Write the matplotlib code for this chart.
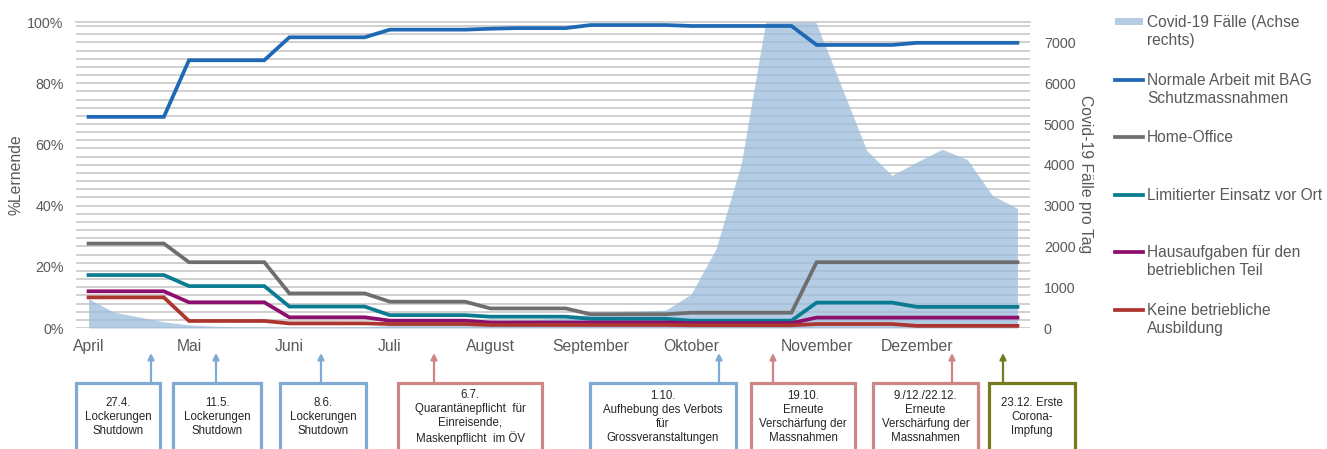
import numpy as np
import matplotlib.pyplot as plt
from matplotlib.patches import Rectangle
from matplotlib.lines import Line2D

plt.rcParams['font.family'] = ['Liberation Sans', 'DejaVu Sans']

W, H = 1327, 449
GREY = '#595959'

# weekly points, April to December 2020
weeks = np.arange(38)
months = ['April', 'Mai', 'Juni', 'Juli', 'August', 'September', 'Oktober', 'November', 'Dezember']
month_pos = [0, 4, 8, 12, 16, 20, 24, 29, 33]

# % Lernende
normal = [69.0] * 4 + [87.5] * 4 + [95.0] * 4 + [97.5] * 4 + [97.8, 98.0, 98.0, 98.0] \
    + [99.0] * 4 + [98.7] * 5 + [92.5] * 4 + [93.2] * 5
home_office = [27.6] * 4 + [21.5] * 4 + [11.3] * 4 + [8.6] * 4 + [6.4] * 4 + [4.5] * 4 + [5.0] * 5 + [21.5] * 9
limitiert = [17.3] * 4 + [13.7] * 4 + [7.0] * 4 + [4.2] * 4 + [3.7] * 4 + [3.0] * 4 + [2.4] * 5 + [8.3] * 4 + [6.9] * 5
hausaufgaben = [12.0] * 4 + [8.4] * 4 + [3.5] * 4 + [2.4] * 4 + [1.8] * 4 + [1.8] * 4 + [1.6] * 5 + [3.4] * 9
keine = [10.0] * 4 + [2.3] * 4 + [1.5] * 4 + [1.3] * 4 + [1.0] * 4 + [1.0] * 4 + [0.9] * 5 + [1.3] * 4 + [0.7] * 5

# Covid-19 Faelle pro Tag (right axis)
cases = [720, 390, 270, 150, 75, 45, 30, 25, 20, 20, 25, 30, 60, 90, 110, 130,
         170, 190, 210, 240, 350, 400, 420, 440, 830, 1950, 4030, 7600, 8500,
         7450, 5900, 4350, 3740, 4070, 4380, 4130, 3250, 2930]

series = [normal, home_office, limitiert, hausaufgaben, keine]
colors = ['#1f69b4', '#6e6e6e', '#0b7b92', '#8c0f6e', '#ad3530']
labels = ['Covid-19 Fälle (Achse\nrechts)', 'Normale Arbeit mit BAG\nSchutzmassnahmen', 'Home-Office',
          'Limitierter Einsatz vor Ort', 'Hausaufgaben für den\nbetrieblichen Teil', 'Keine betriebliche\nAusbildung']

notes = ['27.4.\nLockerungen\nShutdown', '11.5.\nLockerungen\nShutdown', '8.6.\nLockerungen\nShutdown',
         '6.7.\nQuarantänepflicht  für\nEinreisende,\nMaskenpflicht  im ÖV',
         '1.10.\nAufhebung des Verbots\nfür\nGrossveranstaltungen',
         '19.10.\nErneute\nVerschärfung der\nMassnahmen',
         '9./12./22.12.\nErneute\nVerschärfung der\nMassnahmen',
         '23.12. Erste\nCorona-\nImpfung']
BLUE, RED, OLIVE = '#7eaad3', '#cd8585', '#757a1f'
note_colors = [BLUE, BLUE, BLUE, RED, BLUE, RED, RED, OLIVE]
box_left = [76, 173, 280, 398, 590, 751, 873, 989]
box_right = [160, 261, 366, 542, 736, 855, 978, 1075]
arrow_x = [151, 216, 321, 434, 719, 773, 952, 1003]

fig = plt.figure(figsize=(W / 100, H / 100), dpi=100)
ax2 = fig.add_axes([76 / W, 1 - 328 / H, 954 / W, 306 / H])
ax = ax2.twinx()
ax.yaxis.tick_left()
ax2.yaxis.tick_right()

# cases area on right axis, behind the lines
ax2.fill_between(weeks, cases, color='#9bbcdb', alpha=0.75, lw=0)
ax2.set_ylim(0, 7500)
ax2.set_yticks(np.arange(0, 7001, 1000))
ax2.set_yticks(np.arange(0, 7500, 200), minor=True)
ax2.yaxis.grid(True, which='both', color='#c8c8c8', lw=1.2)
ax2.set_axisbelow(True)
ax2.tick_params(axis='y', which='both', length=0, pad=10, labelsize=10.3, labelcolor=GREY)

for s, c in zip(series, colors):
    ax.plot(weeks, s, color=c, lw=2.7, solid_joinstyle='miter')
ax.set_ylim(0, 100)
ax.set_yticks(np.arange(0, 101, 20))
ax.set_yticklabels([f'{v}%' for v in range(0, 101, 20)])
ax.tick_params(axis='y', length=0, pad=9, labelsize=10.3, labelcolor=GREY)

ax2.set_xlim(-0.5, 37.5)
ax2.set_xticks(month_pos)
ax2.set_xticklabels(months)
ax2.tick_params(axis='x', length=0, pad=8, labelsize=11.3, labelcolor=GREY)

for a in (ax, ax2):
    for sp in a.spines.values():
        sp.set_visible(False)
ax2.spines['top'].set_visible(True)
ax2.spines['top'].set_color('#c8c8c8')
ax2.spines['top'].set_linewidth(1.2)

fig.text(16 / W, 1 - 175 / H, '%Lernende', rotation=90, ha='center', va='center', fontsize=11.3, color=GREY)
fig.text(1086 / W, 1 - 174 / H, 'Covid-19 Fälle pro Tag', rotation=270, ha='center', va='center',
         fontsize=11.3, color=GREY)

# legend
leg_y = [22, 80, 137, 195, 252, 310]
for i, (lab, y) in enumerate(zip(labels, leg_y)):
    if i == 0:
        fig.add_artist(Rectangle((1115 / W, 1 - 25 / H), 28 / W, 7 / H, transform=fig.transFigure,
                                 color='#b4cde4', lw=0))
    else:
        fig.add_artist(Line2D([1115 / W, 1143 / W], [1 - y / H, 1 - y / H], transform=fig.transFigure,
                              color=colors[i - 1], lw=2.7))
    fig.text(1147 / W, 1 - (y - 7) / H, lab, ha='left', va='top', fontsize=11.2, color=GREY, linespacing=1.28)

# event boxes below the chart
for txt, c, l, r, xa in zip(notes, note_colors, box_left, box_right, arrow_x):
    fig.add_artist(Rectangle((l / W, 1 - 455 / H), (r - l) / W, (455 - 383) / H,
                             transform=fig.transFigure, fill=False, ec=c, lw=2.3))
    fig.text((l + r) / 2 / W, 1 - 417 / H, txt, ha='center', va='center', fontsize=8.3,
             color='#262626', linespacing=1.2)
    fig.add_artist(plt.Annotation('', xy=(xa / W, 1 - 353 / H), xytext=(xa / W, 1 - 383 / H),
                                  xycoords='figure fraction',
                                  arrowprops=dict(arrowstyle='-|>', color=c, lw=1.6,
                                                  mutation_scale=9, shrinkA=0, shrinkB=0)))

fig.savefig('out.png', dpi=100)
